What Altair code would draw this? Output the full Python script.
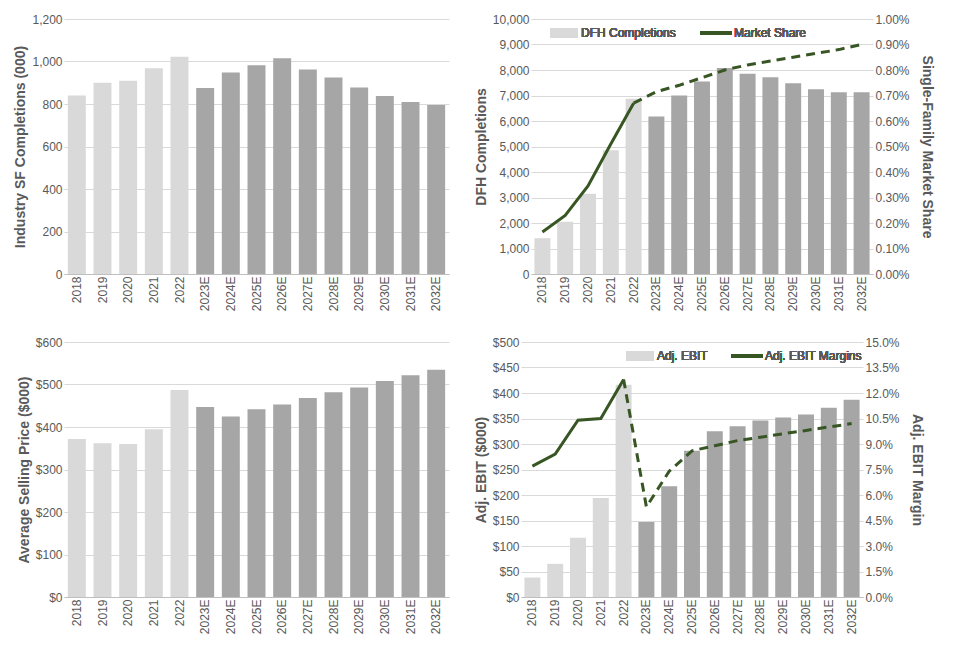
#!/usr/bin/env python3
"""Homebuilder outlook - four panel chart"""
import altair as alt
import pandas as pd

years = ['2018', '2019', '2020', '2021', '2022', '2023E', '2024E', '2025E',
         '2026E', '2027E', '2028E', '2029E', '2030E', '2031E', '2032E']
sf_completions = [840, 900, 910, 968, 1022, 875, 948, 982, 1015, 962, 925, 878, 838, 810, 795]
dfh_completions = [1400, 2050, 3150, 4850, 6870, 6180, 7000, 7550, 8080, 7850, 7720, 7480, 7250, 7130, 7130]
market_share = [0.00165, 0.0023, 0.00345, 0.0051, 0.0067, 0.00715, 0.0074, 0.0077, 0.0080,
                0.0082, 0.00835, 0.0085, 0.00865, 0.0088, 0.0090]
avg_price = [372, 362, 360, 395, 487, 447, 425, 442, 453, 468, 482, 493, 508, 522, 535]
adj_ebit = [38, 65, 116, 194, 416, 147, 217, 287, 325, 335, 346, 352, 358, 371, 387]
ebit_margin = [0.077, 0.084, 0.104, 0.105, 0.128, 0.053, 0.074, 0.086, 0.089, 0.092,
               0.094, 0.096, 0.098, 0.100, 0.102]

HIST, FCST, GREEN = '#D9D9D9', '#A6A6A6', '#375623'
TXT = '#595959'

df = pd.DataFrame({
    'year': years, 'sf': sf_completions, 'dfh': dfh_completions, 'share': market_share,
    'asp': avg_price, 'ebit': adj_ebit, 'margin': ebit_margin,
    'est': [y.endswith('E') for y in years],
})
df['solid'] = ~df['est']
df['dashed'] = df['est'] | (df['year'] == '2022')

X = alt.X('year:N', sort=years, title=None, scale=alt.Scale(paddingInner=0.3, paddingOuter=0.15),
          axis=alt.Axis(labelAngle=270, domainColor='#BFBFBF', ticks=False, grid=False))
LW, RW, H = 385, 342, 255


def bars(field, title, dom, step, fmt, width):
    return alt.Chart(df).mark_bar().encode(
        x=X,
        y=alt.Y(f'{field}:Q', title=title, scale=alt.Scale(domain=dom, nice=False),
                axis=alt.Axis(values=list(range(dom[0], dom[1] + 1, step)), format=fmt,
                              domain=False, ticks=False, gridColor='#D9D9D9')),
        color=alt.condition('datum.est', alt.value(FCST), alt.value(HIST)),
    ).properties(width=width, height=H)


def lines(field, title, dom, step, fmt):
    y = alt.Y(f'{field}:Q', title=title, scale=alt.Scale(domain=dom, nice=False),
              axis=alt.Axis(orient='right', format=fmt, grid=False, domain=False, ticks=False,
                            titlePadding=10,
                            values=[round(dom[0] + i * step, 5) for i in range(11)]))
    solid = alt.Chart(df).transform_filter('datum.solid').mark_line(
        color=GREEN, strokeWidth=3).encode(x=X, y=y)
    dashed = alt.Chart(df).transform_filter('datum.dashed').mark_line(
        color=GREEN, strokeWidth=3, strokeDash=[9, 6]).encode(x=X, y=y)
    return solid + dashed


def legend(bar_label, line_label, x0, x1):
    sw = alt.Chart(df).mark_rect(color=HIST).encode(
        x=alt.value(x0), x2=alt.value(x0 + 28), y=alt.value(9), y2=alt.value(19))
    t1 = alt.Chart(df).mark_text(align='left', fontSize=12, color=TXT, fontWeight='normal').encode(
        x=alt.value(x0 + 31), y=alt.value(14), text=alt.value(bar_label))
    ln = alt.Chart(df).mark_rule(color=GREEN, strokeWidth=3).encode(
        x=alt.value(x1), x2=alt.value(x1 + 32), y=alt.value(14))
    t2 = alt.Chart(df).mark_text(align='left', fontSize=12, color=TXT, fontWeight='normal').encode(
        x=alt.value(x1 + 34), y=alt.value(14), text=alt.value(line_label))
    return sw + t1 + ln + t2


p1 = bars('sf', 'Industry SF Completions (000)', [0, 1200], 200, ',d', LW)
p2 = alt.layer(
    bars('dfh', 'DFH Completions', [0, 10000], 1000, ',d', RW),
    lines('share', 'Single-Family Market Share', [0, 0.01], 0.001, '.2%'),
    legend('DFH Completions', 'Market Share', 19, 169),
).resolve_scale(y='independent')
p3 = bars('asp', 'Average Selling Price ($000)', [0, 600], 100, '$,d', LW)
p4 = alt.layer(
    bars('ebit', 'Adj. EBIT ($000)', [0, 500], 50, '$,d', RW),
    lines('margin', 'Adj. EBIT Margin', [0, 0.15], 0.015, '.1%'),
    legend('Adj. EBIT', 'Adj. EBIT Margins', 105, 210),
).resolve_scale(y='independent')

chart = alt.vconcat(
    alt.hconcat(p1, p2, spacing=25),
    alt.hconcat(p3, p4, spacing=25),
    spacing=25,
).configure_view(stroke=None).configure_axis(
    labelFont='Liberation Sans', labelFontSize=12, labelColor=TXT,
    titleFont='Liberation Sans', titleFontSize=14, titleColor=TXT, titleFontWeight='bold',
).configure_text(font='Liberation Sans')

chart.save("out.html", embed_options={"renderer": "svg", "actions": False})
